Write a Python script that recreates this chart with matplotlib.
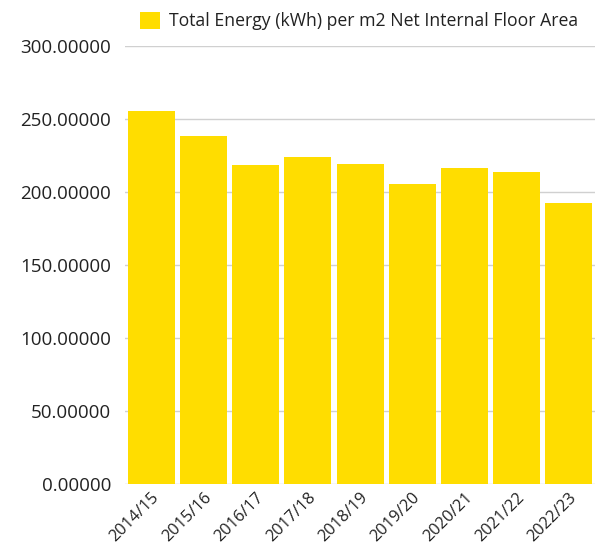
import matplotlib
matplotlib.use("Agg")
import matplotlib.pyplot as plt
from matplotlib.patches import Patch

categories = ["2014/15", "2015/16", "2016/17", "2017/18", "2018/19",
              "2019/20", "2020/21", "2021/22", "2022/23"]
values = [255.3, 238.4, 218.3, 223.8, 219.2, 205.1, 216.3, 213.3, 192.1]
series_name = "Total Energy (kWh) per m2 Net Internal Floor Area"
yticks = [0, 50, 100, 150, 200, 250, 300]

plt.rcParams['font.family'] = ['Open Sans', 'DejaVu Sans']

fig = plt.figure(figsize=(6.02, 5.52), dpi=100)
ax = fig.add_axes([125/602, 1-484/552, 470/602, (484-45.7)/552])

color = "#FFDD00"
x = range(len(categories))
ax.bar(x, values, width=0.9, color=color, zorder=2)
ax.set_xlim(-0.5, len(categories) - 0.5)
ax.set_ylim(0, 300)
ax.set_yticks(yticks)
ax.set_yticklabels([f"{v:.5f}" for v in yticks], fontsize=13.5, color="#222222")
ax.set_xticks(list(x))
ax.set_xticklabels(categories, rotation=45, ha="right", rotation_mode="anchor",
                   fontsize=11.8, color="#222222")
ax.tick_params(axis="y", length=0, pad=10)
ax.tick_params(axis="x", length=0, pad=4)
ax.grid(axis="y", color="#d0d0d0", linewidth=1, zorder=0)
for s in ax.spines.values():
    s.set_visible(False)

fig.legend(handles=[Patch(facecolor=color)], labels=[series_name],
           loc="center left", bbox_to_anchor=(124/602, 1-21/552),
           frameon=False, fontsize=12.7, handlelength=1.15, handleheight=1.15,
           handletextpad=0.5, labelcolor="#222222")

fig.savefig("out.png", dpi=100)
